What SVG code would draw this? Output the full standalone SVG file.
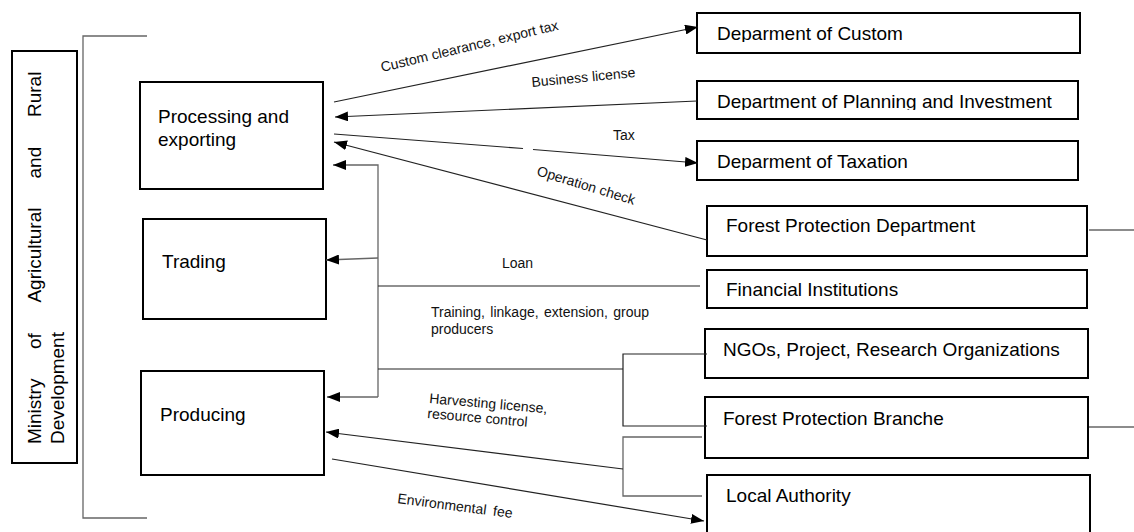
<svg xmlns="http://www.w3.org/2000/svg" width="1134" height="532" viewBox="0 0 1134 532">
<style>
text{font-family:"Liberation Sans",Arial,sans-serif;fill:#000}
.nt{font-size:19px}
.lb{font-size:14px;fill:#111}
.box{fill:#fff;stroke:#000;stroke-width:2}
.ln{fill:none;stroke:#222;stroke-width:1.2}
.gl{fill:none;stroke:#666;stroke-width:1.3}
.ar{marker-end:url(#ah)}
</style>
<defs>
<marker id="ah" markerUnits="userSpaceOnUse" markerWidth="13" markerHeight="10" refX="13" refY="5" orient="auto">
<path d="M0,0 L13,5 L0,10 z" fill="#000"/>
</marker>
<clipPath id="c1" clipPathUnits="userSpaceOnUse"><rect x="700" y="15" width="370" height="27"/></clipPath>
<clipPath id="c2" clipPathUnits="userSpaceOnUse"><rect x="700" y="83" width="370" height="27"/></clipPath>
<clipPath id="c3" clipPathUnits="userSpaceOnUse"><rect x="700" y="143" width="370" height="27"/></clipPath>
</defs>
<rect width="1134" height="532" fill="#fff"/>

<g id="ministry">
<rect class="box" x="12" y="51" width="65" height="412"/>
<g transform="translate(41,444) rotate(-90)">
<text class="nt"><tspan x="0" y="0">Ministry</tspan><tspan x="95" y="0">of</tspan><tspan x="141.4" y="0">Agricultural</tspan><tspan x="265.5" y="0">and</tspan><tspan x="327" y="0">Rural</tspan></text>
<text class="nt" x="0" y="22.5">Development</text>
</g>
</g>
<g id="bracket">
<path class="gl" d="M147,36 H83 V518 H147"/>
</g>

<g id="processing">
<rect class="box" x="140" y="82" width="183" height="107"/>
<text class="nt" x="158" y="123">Processing and</text>
<text class="nt" x="158" y="146">exporting</text>
</g>
<g id="trading">
<rect class="box" x="143" y="219" width="183" height="100"/>
<text class="nt" x="162" y="268">Trading</text>
</g>
<g id="producing">
<rect class="box" x="141" y="371" width="183" height="104"/>
<text class="nt" x="160" y="421">Producing</text>
</g>

<g id="custom">
<rect class="box" x="697" y="13" width="383" height="40"/>
<text class="nt" x="717" y="40" clip-path="url(#c1)">Deparment of Custom</text>
</g>
<g id="planning">
<rect class="box" x="697" y="81" width="381" height="38"/>
<text class="nt" x="717" y="108" clip-path="url(#c2)">Department of Planning and Investment</text>
</g>
<g id="taxation">
<rect class="box" x="697" y="141" width="381" height="39"/>
<text class="nt" x="717" y="168" clip-path="url(#c3)">Deparment of Taxation</text>
</g>
<g id="fpd">
<rect class="box" x="707" y="206" width="380" height="50"/>
<text class="nt" x="726" y="232">Forest Protection Department</text>
</g>
<g id="financial">
<rect class="box" x="707" y="270" width="380" height="38"/>
<text class="nt" x="726" y="296">Financial Institutions</text>
</g>
<g id="ngos">
<rect class="box" x="705" y="329" width="383" height="49"/>
<text class="nt" x="723" y="356">NGOs, Project, Research Organizations</text>
</g>
<g id="fpb">
<rect class="box" x="705" y="397" width="383" height="61"/>
<text class="nt" x="723" y="425">Forest Protection Branche</text>
</g>
<g id="local">
<path class="box" d="M707,540 V475 H1090 V540"/>
<text class="nt" x="726" y="502">Local Authority</text>
</g>

<g id="connectors">
<line class="ln ar" x1="334" y1="102" x2="698" y2="27"/>
<line class="ln ar" x1="697" y1="101" x2="335" y2="117"/>
<line class="ln" x1="334" y1="134" x2="523" y2="148.5"/>
<line class="ln ar" x1="533" y1="149.5" x2="698" y2="163"/>
<line class="ln ar" x1="707" y1="240" x2="334" y2="142"/>
<path class="gl ar" d="M378,397 V165 H333"/>
<path class="gl ar" d="M378,397 H327"/>
<line class="gl ar" x1="378" y1="258" x2="326" y2="260"/>
<line class="ln" x1="378" y1="286" x2="700" y2="286"/>
<line class="ln" x1="378" y1="369" x2="623" y2="369"/>
<path class="ln" d="M707,354 H623 V426 H707"/>
<path class="gl" d="M702,437 H623 V496 H702"/>
<line class="ln ar" x1="623" y1="469" x2="326" y2="432"/>
<line class="ln ar" x1="332" y1="459" x2="704" y2="521"/>
<line class="gl" x1="1089" y1="230" x2="1134" y2="230"/>
<line class="gl" x1="1089" y1="427" x2="1134" y2="427"/>

<text class="lb" transform="translate(382,72) rotate(-13.5)">Custom clearance, export tax</text>
<text class="lb" transform="translate(532,87) rotate(-5.5)">Business license</text>
<text class="lb" x="613" y="140">Tax</text>
<text class="lb" transform="translate(536,175) rotate(17)">Operation check</text>
<text class="lb" x="502" y="268">Loan</text>
<text class="lb" x="431" y="317" word-spacing="1.5">Training, linkage, extension, group</text>
<text class="lb" x="431" y="334">producers</text>
<text class="lb" transform="translate(429,403) rotate(5)">Harvesting license,</text>
<text class="lb" transform="translate(427,418) rotate(5)">resource control</text>
<text class="lb" transform="translate(397,503) rotate(7.5)" word-spacing="3">Environmental fee</text>
</g>
</svg>
